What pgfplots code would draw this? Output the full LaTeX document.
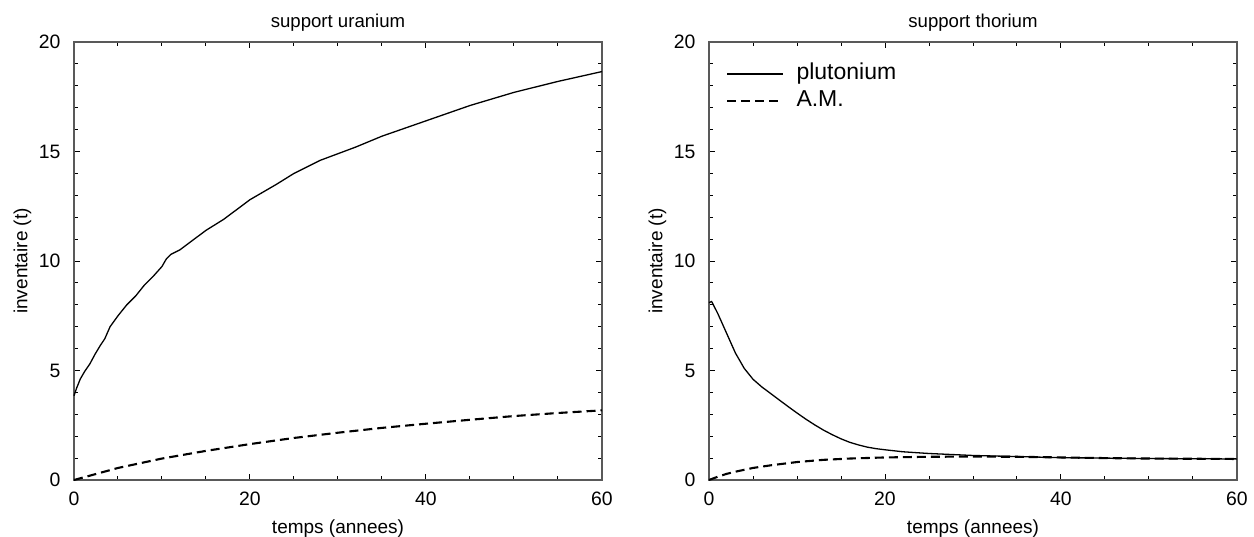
\documentclass[border=0pt]{standalone}
\usepackage{pgfplots}
\pgfplotsset{compat=1.18}
\usepackage{fontspec}
\setmainfont{Liberation Sans}
\pgfplotsset{
  panel/.style={
    scale only axis, width=264pt, height=219pt,
    xmin=0, xmax=60, ymin=0, ymax=20,
    xtick={0,20,40,60}, minor xtick={5,10,15,25,30,35,45,50,55},
    ytick={0,5,10,15,20}, minor ytick={1,2,3,4,6,7,8,9,11,12,13,14,16,17,18,19},
    tick align=inside, major tick length=3pt, minor tick length=1.8pt,
    axis line style={black!65, line width=0.7pt},
    every tick/.style={black, line width=0.5pt},
    /pgf/number format/assume math mode=true,
    tick label style={font=\fontsize{9.7}{11}\selectfont},
    xticklabel style={yshift=-2.5pt},
    yticklabel style={xshift=-3.3pt},
    label style={font=\fontsize{9.5}{11}\selectfont},
    title style={font=\fontsize{9.3}{11}\selectfont, yshift=-4pt},
    xlabel={temps (annees)}, ylabel={inventaire (t)},
    ylabel style={at={(axis description cs:-0.0674,0.5)}, anchor=south, rotate=0},
    clip=false,
  },
  solidline/.style={black, line width=0.65pt},
  dashline/.style={black, line width=1.05pt, dash pattern=on 4.5pt off 2.5pt},
}
\begin{document}
\begin{tikzpicture}
\path[use as bounding box] (0,0) rectangle (627pt,268pt);
\begin{axis}[panel, at={(37pt,28pt)}, anchor=south west, title={support uranium}]
\addplot[solidline] coordinates {
(0,3.85) (0.3,4.2) (0.7,4.6) (1.2,4.95) (1.8,5.3) (2.4,5.75) (3,6.15) (3.5,6.45) (4.1,7.0) (5,7.5) (6,8.0) (7,8.4) (8,8.9) (9,9.3) (10,9.75) (10.5,10.1) (11,10.3) (12,10.5) (13,10.8) (14,11.1) (15,11.4) (17,11.9) (20,12.8) (23,13.5) (25,14.0) (28,14.6) (30,14.9) (32,15.2) (35,15.7) (40,16.4) (45,17.1) (50,17.7) (55,18.2) (60,18.65)
};
\addplot[dashline] coordinates {
(0,0) (2,0.22) (5,0.55) (10,0.98) (15,1.33) (20,1.64) (25,1.92) (30,2.16) (35,2.38) (40,2.57) (45,2.75) (50,2.92) (55,3.06) (60,3.18)
};
\end{axis}
\begin{axis}[panel, at={(354.5pt,28pt)}, anchor=south west, title={support thorium},
  legend style={draw=none, fill=none, inner sep=0pt, at={(axis description cs:0,1)}, anchor=north west,
    xshift=8.5pt, yshift=-9pt, font=\fontsize{11.5}{14}\selectfont, column sep=4.5pt,
    nodes={text height=8pt, text depth=2.5pt, inner sep=1.5pt}},
  legend cell align=left,
  legend image code/.code={\draw[#1] (0pt,0pt) -- (28pt,0pt);}]
\addplot[solidline] coordinates {
(0,8.1) (0.3,8.15) (1,7.6) (2,6.7) (3,5.8) (4,5.1) (5,4.6) (6,4.25) (7,3.95) (8,3.65) (9,3.35) (10,3.06) (11,2.78) (12,2.52) (13,2.28) (14,2.07) (15,1.88) (16,1.72) (17,1.6) (18,1.5) (19,1.43) (20,1.38) (22,1.29) (25,1.21) (30,1.12) (35,1.07) (40,1.02) (45,1.0) (50,0.98) (55,0.97) (60,0.96)
};
\addlegendentry{plutonium}
\addplot[dashline] coordinates {
(0,0) (1,0.15) (2,0.28) (3,0.38) (5,0.55) (7,0.67) (10,0.82) (13,0.92) (16,0.98) (20,1.03) (25,1.06) (30,1.07) (35,1.06) (40,1.03) (45,1.0) (50,0.98) (55,0.97) (60,0.96)
};
\addlegendentry{A.M.}
\end{axis}
\end{tikzpicture}
\end{document}
